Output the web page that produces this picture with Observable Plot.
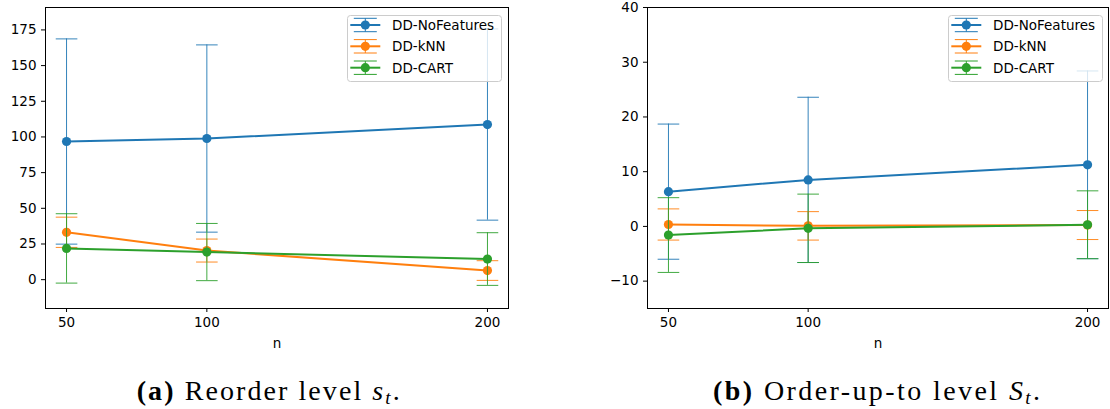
<!DOCTYPE html>
<html>
<head>
<meta charset="utf-8">
<script src="https://cdn.jsdelivr.net/npm/d3@7"></script>
<script src="https://cdn.jsdelivr.net/npm/@observablehq/plot@0.6"></script>
<style>
  html, body { margin: 0; padding: 0; background: white; }
  #wrap { position: relative; width: 1110px; height: 409px; overflow: hidden; background: white; }
  .panel { position: absolute; top: 0; }
  .legend { position: absolute; }
  #captions { position: absolute; left: 0; top: 0; }
</style>
</head>
<body>
<div id="wrap">
  <div id="left" class="panel" style="left:0px"></div>
  <div id="right" class="panel" style="left:600px"></div>
</div>
<script>
// ---------- data ----------
const nValues = [50, 100, 200];
const seriesNames = ["DD-NoFeatures", "DD-kNN", "DD-CART"];
const seriesColors = ["#1f77b4", "#ff7f0e", "#2ca02c"];

// (a) reorder level s_t : means and error half-widths
const sNoFeatMean = [96.8, 98.9, 108.7];
const sNoFeatErr  = [71.9, 65.6, 67.0];
const sKnnMean    = [33.2, 20.4, 6.4];
const sKnnErr     = [10.6, 8.05, 6.9];
const sCartMean   = [21.9, 19.35, 14.45];
const sCartErr    = [24.3, 20.05, 18.45];

// (b) order-up-to level S_t
const bigSNoFeatMean = [6.35, 8.5, 11.25];
const bigSNoFeatErr  = [12.35, 15.1, 17.15];
const bigSKnnMean    = [0.35, 0.1, 0.25];
const bigSKnnErr     = [2.85, 2.6, 2.65];
const bigSCartMean   = [-1.58, -0.35, 0.3];
const bigSCartErr    = [6.83, 6.25, 6.2];

const xTicks = [50, 100, 200];
const leftYTicks = [0, 25, 50, 75, 100, 125, 150, 175];
const rightYTicks = [-10, 0, 10, 20, 30, 40];

// ---------- helpers ----------
const CAP_HALF = 10.8;
const capSymbol = {
  draw(context) {
    context.moveTo(-CAP_HALF, 0);
    context.lineTo(CAP_HALF, 0);
  }
};

function rowsFor(means, errs) {
  return nValues.map((n, i) => ({n, mean: means[i], lo: means[i] - errs[i], hi: means[i] + errs[i]}));
}

function panel({means, errs, yDomain, yTicks, width, marginLeft, marginRight}) {
  const marks = [];
  means.forEach((m, si) => {
    const rows = rowsFor(m, errs[si]);
    const caps = rows.flatMap(r => [{n: r.n, v: r.lo}, {n: r.n, v: r.hi}]);
    const c = seriesColors[si];
    marks.push(Plot.ruleX(rows, {x: "n", y1: "lo", y2: "hi", stroke: c, strokeWidth: 1, strokeOpacity: 0.9}));
    marks.push(Plot.dot(caps, {x: "n", y: "v", symbol: capSymbol, stroke: c, fill: "none", strokeWidth: 1, strokeOpacity: 0.9}));
    marks.push(Plot.line(rows, {x: "n", y: "mean", stroke: c, strokeWidth: 2}));
    marks.push(Plot.dot(rows, {x: "n", y: "mean", fill: c, r: 4.6, stroke: "none"}));
  });
  marks.push(Plot.frame({stroke: "black", strokeWidth: 1}));
  marks.push(Plot.axisX({ticks: xTicks, tickSize: 4, tickPadding: 5, label: null, tickFormat: d => String(d)}));
  marks.push(Plot.axisY({ticks: yTicks, tickSize: 4, tickPadding: 5, label: null}));
  marks.push(Plot.text(["n"], {frameAnchor: "bottom", dy: 39, fill: "black"}));
  return Plot.plot({
    width, height: 360,
    marginLeft, marginRight, marginTop: 7, marginBottom: 52,
    x: {domain: [42.5, 207.5], label: null},
    y: {domain: yDomain, label: null},
    style: {fontFamily: "'DejaVu Sans', sans-serif", fontSize: "13.5px", color: "black", background: "transparent", overflow: "visible"},
    marks
  });
}

document.getElementById("left").appendChild(panel({
  means: [sNoFeatMean, sKnnMean, sCartMean],
  errs: [sNoFeatErr, sKnnErr, sCartErr],
  yDomain: [-20.2, 190.7], yTicks: leftYTicks,
  width: 530, marginLeft: 45, marginRight: 22
}));
document.getElementById("right").appendChild(panel({
  means: [bigSNoFeatMean, bigSKnnMean, bigSCartMean],
  errs: [bigSNoFeatErr, bigSKnnErr, bigSCartErr],
  yDomain: [-15, 40], yTicks: rightYTicks,
  width: 510, marginLeft: 47, marginRight: 2
}));

// ---------- legends ----------
const NS = "http://www.w3.org/2000/svg";
function el(name, attrs, parent) {
  const e = document.createElementNS(NS, name);
  for (const k in attrs) e.setAttribute(k, attrs[k]);
  if (parent) parent.appendChild(e);
  return e;
}
function addLegend(left, top) {
  const w = 155, h = 67;
  const svg = el("svg", {width: w + 2, height: h + 2, class: "legend"});
  svg.style.left = (left - 1) + "px";
  svg.style.top = (top - 1) + "px";
  svg.style.position = "absolute";
  el("rect", {x: 1.5, y: 1.5, width: w - 1, height: h - 1, rx: 3, ry: 3, fill: "rgba(255,255,255,0.8)", stroke: "#cccccc", "stroke-width": 1}, svg);
  const rowY = [11, 32.3, 53.7];
  seriesNames.forEach((name, i) => {
    const c = seriesColors[i];
    const y = rowY[i];
    const cx = 19.3;
    el("line", {x1: 4.3, x2: 34.3, y1: y, y2: y, stroke: c, "stroke-width": 2}, svg);
    el("line", {x1: cx, x2: cx, y1: y - 6.7, y2: y + 6.7, stroke: c, "stroke-width": 1}, svg);
    el("line", {x1: cx - 11.5, x2: cx + 11.5, y1: y - 6.7, y2: y - 6.7, stroke: c, "stroke-width": 1}, svg);
    el("line", {x1: cx - 11.5, x2: cx + 11.5, y1: y + 6.7, y2: y + 6.7, stroke: c, "stroke-width": 1}, svg);
    el("circle", {cx, cy: y, r: 4.6, fill: c}, svg);
    const t = el("text", {x: 46, y: y + 5, "font-family": "DejaVu Sans, sans-serif", "font-size": "13.5px", fill: "black"}, svg);
    t.textContent = name;
  });
  document.getElementById("wrap").appendChild(svg);
}
addLegend(346.7, 15);
addLegend(948.3, 15);

// ---------- captions ----------
const cap = el("svg", {width: 1110, height: 409, id: "captions"});
cap.style.position = "absolute"; cap.style.left = "0px"; cap.style.top = "0px";
function caption(x, len, label, words, sym) {
  const t = el("text", {x, y: 400, "font-family": "'Liberation Serif', serif", "font-size": "28px", fill: "black", textLength: len, lengthAdjust: "spacing"}, cap);
  const b = el("tspan", {"font-weight": "bold"}, t); b.textContent = label;
  const r = el("tspan", {}, t); r.textContent = " " + words + " ";
  const s = el("tspan", {"font-style": "italic"}, t); s.textContent = sym;
  const sub = el("tspan", {"font-style": "italic", "font-size": "19px", dy: 4}, t); sub.textContent = "t";
  const dot = el("tspan", {dy: -4}, t); dot.textContent = ".";
}
caption(136.7, 263, "(a)", "Reorder level", "s");
caption(713, 327, "(b)", "Order-up-to level", "S");
document.getElementById("wrap").appendChild(cap);
</script>
</body>
</html>
